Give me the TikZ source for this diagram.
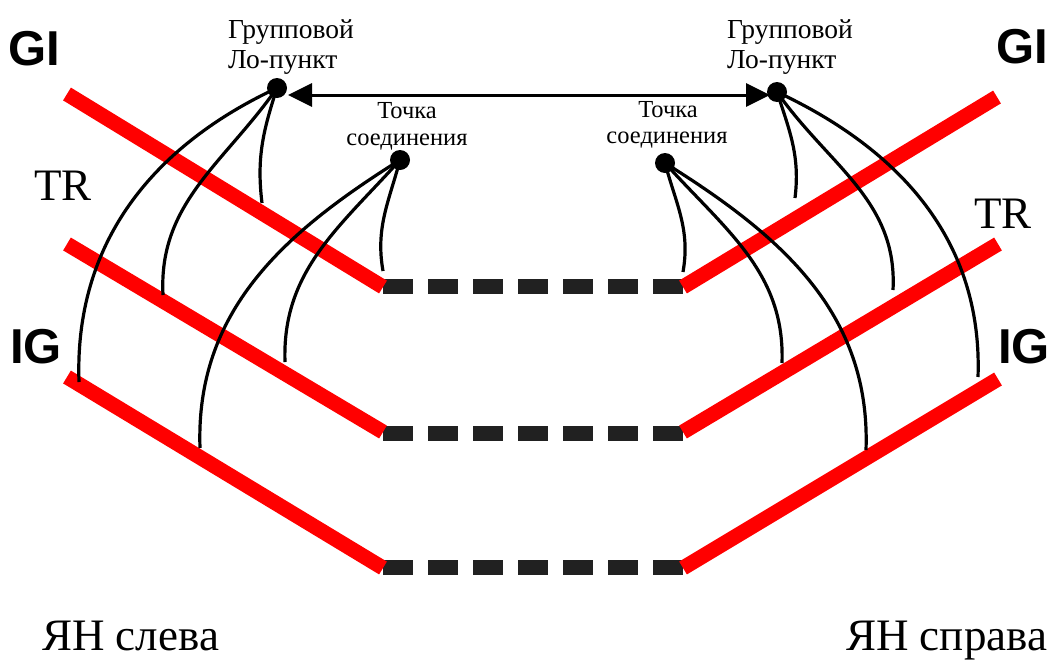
\documentclass[tikz,border=0pt]{standalone}
\usepackage{fontspec}
\setmainfont{Liberation Serif}
\newfontfamily\headfont{Liberation Sans}
\usetikzlibrary{arrows.meta}

\begin{document}
\begin{tikzpicture}[x=1pt,y=1pt,
  strand/.style={draw=red, line width=15pt},
  gapline/.style={draw=black!87, line width=15pt, dash pattern=on 30pt off 15pt},
  link/.style={draw=black, line width=3.2pt},
  dot/.style={circle, fill=black, minimum size=20pt, inner sep=0pt},
  lbl/.style={inner sep=0pt, anchor=base west, font=\fontsize{27.5}{30}\selectfont},
  pt/.style={inner sep=0pt, anchor=base, font=\fontsize{24.5}{28}\selectfont},
  big/.style={inner sep=0pt, anchor=base west, font=\fontsize{45}{50}\selectfont},
  head/.style={inner sep=0pt, anchor=base west, font=\headfont\bfseries\fontsize{49}{55}\selectfont}]
\useasboundingbox (0,0) rectangle (1054,-659);

% gaps between the strands
\draw[gapline] (383,-286) -- (683,-286);
\draw[gapline] (383,-433) -- (683,-433);
\draw[gapline] (383,-567) -- (683,-567);

% left strands
\draw[strand] (67,-94) -- (383,-287);
\draw[strand] (67,-244) -- (383,-432);
\draw[strand] (67,-377) -- (383,-568);
% right strands
\draw[strand] (683,-287) -- (997,-97);
\draw[strand] (683,-432) -- (998,-244);
\draw[strand] (683,-568) -- (998,-379);

% points on the strands
\coordinate (la) at (79,-382);
\coordinate (lb) at (163,-295);
\coordinate (lc) at (262,-203);
\coordinate (ld) at (200,-448);
\coordinate (le) at (285,-362);
\coordinate (lf) at (383,-271);
\coordinate (ra) at (978,-377);
\coordinate (rb) at (893,-290);
\coordinate (rc) at (795,-198);
\coordinate (rd) at (866,-450);
\coordinate (re) at (782,-363);
\coordinate (rf) at (683,-272);

% group points and junction points
\node[dot] (gl) at (277,-88) {};
\node[dot] (gr) at (777,-92) {};
\node[dot] (jl) at (400,-160) {};
\node[dot] (jr) at (665,-163) {};

% links from the points to the strands
\draw[link] (gl.center) to[out=205,in=92] (la);
\draw[link] (gl.center) to[out=235,in=93] (lb);
\draw[link] (gl.center) to[out=252,in=97] (lc);
\draw[link] (jl.center) to[out=212,in=92] (ld);
\draw[link] (jl.center) to[out=228,in=92] (le);
\draw[link] (jl.center) to[out=255,in=100] (lf);
\draw[link] (gr.center) to[out=-25,in=88] (ra);
\draw[link] (gr.center) to[out=-55,in=87] (rb);
\draw[link] (gr.center) to[out=-72,in=83] (rc);
\draw[link] (jr.center) to[out=-32,in=88] (rd);
\draw[link] (jr.center) to[out=-48,in=88] (re);
\draw[link] (jr.center) to[out=-75,in=80] (rf);

% arrow between the group points
\coordinate (al) at (288,-95);
\coordinate (ar) at (770,-95);
\draw[draw=black, line width=3pt, {Triangle[length=24pt,width=23pt]}-{Triangle[length=24pt,width=23pt]}] (al) -- (ar);

% labels
\node[lbl] (g1l) at (228,-38) {Групповой};
\node[lbl] (g2l) at (228,-68) {Ло-пункт};
\node[lbl] (g1r) at (727,-38) {Групповой};
\node[lbl] (g2r) at (727,-68) {Ло-пункт};
\node[pt] (t1l) at (407,-118) {Точка};
\node[pt] (t2l) at (407,-145) {соединения};
\node[pt] (t1r) at (668,-117) {Точка};
\node[pt] (t2r) at (667,-143) {соединения};

\node[head] (gil) at (8,-65) {GI};
\node[head] (gir) at (996,-63) {GI};
\node[head] (igl) at (10,-363) {IG};
\node[head] (igr) at (998,-363) {IG};
\node[big] (trl) at (34,-200) {TR};
\node[big] (trr) at (974,-228) {TR};

\node[big] (yl) at (42,-650) {ЯН слева};
\node[big] (yr) at (846,-650) {ЯН справа};
\end{tikzpicture}
\end{document}
